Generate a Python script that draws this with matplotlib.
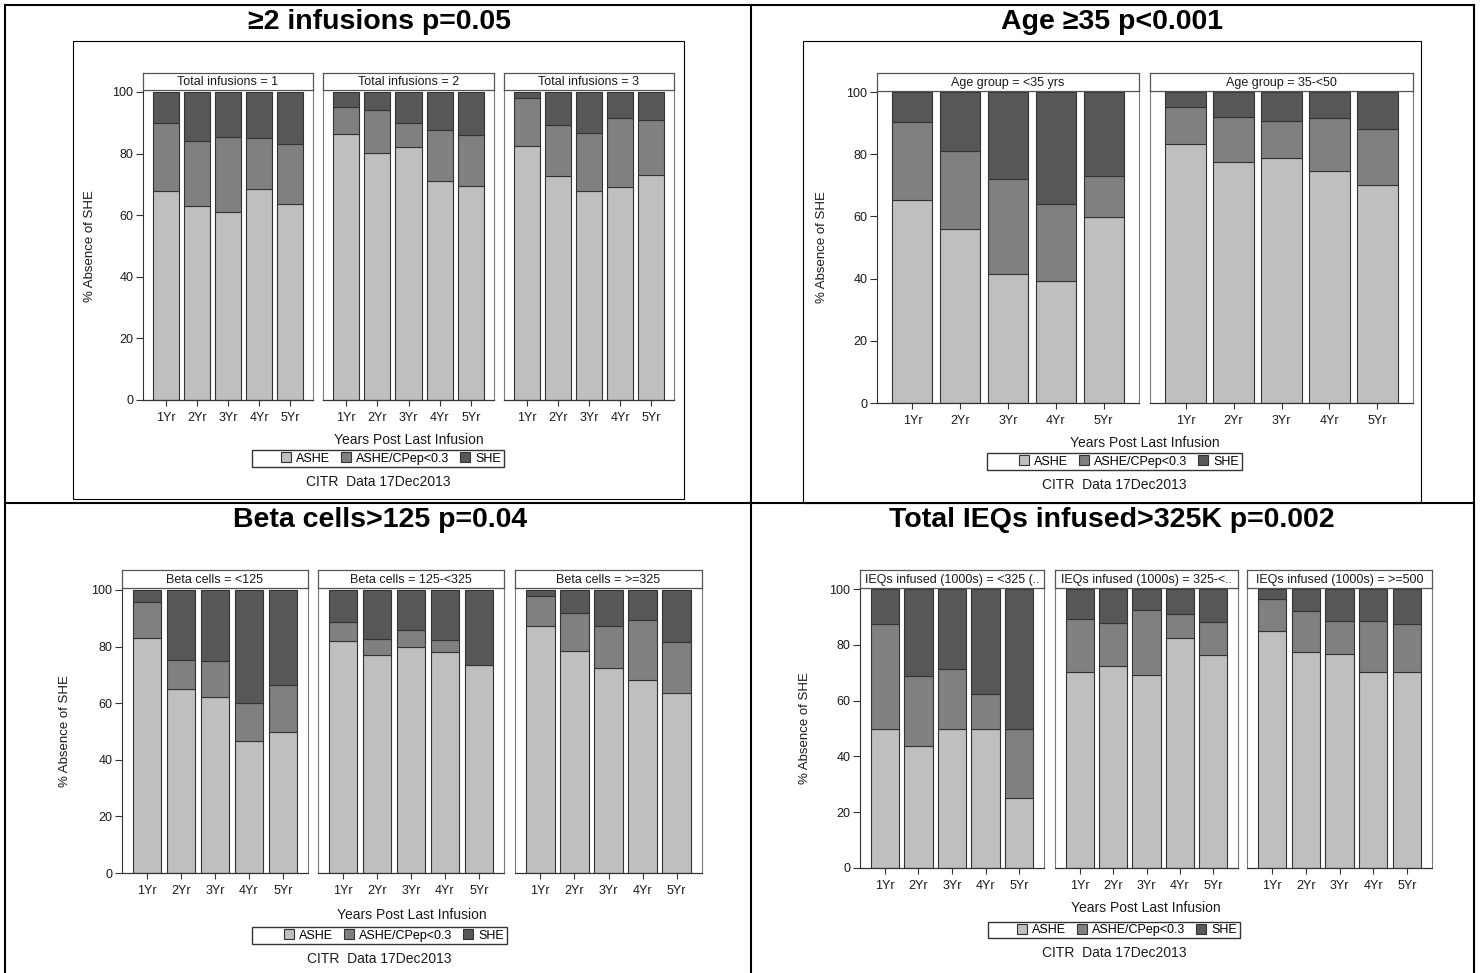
import matplotlib

matplotlib.use("Agg")
import matplotlib.pyplot as plt
from matplotlib.lines import Line2D
from matplotlib.patches import Patch, Rectangle

plt.rcParams["font.family"] = ["Liberation Sans", "DejaVu Sans"]

W, H = 1482, 973

YEARS = ["1Yr", "2Yr", "3Yr", "4Yr", "5Yr"]
SERIES = ["ASHE", "ASHE/CPep<0.3", "SHE"]
COLORS = ["#bfbfbf", "#808080", "#575757"]
EDGE = "#333333"
TEXT = "#1a1a1a"
FOOTNOTE = "CITR  Data 17Dec2013"
XLABEL = "Years Post Last Infusion"
YLABEL = "% Absence of SHE"

# --- data (percent of patients) ---
inf_title = "≥2 infusions p=0.05"
inf_groups = ["Total infusions = 1", "Total infusions = 2", "Total infusions = 3"]
inf_ashe = [[68.0, 63.0, 61.0, 68.5, 63.5], [86.5, 80.3, 82.0, 71.0, 69.6], [82.4, 72.7, 67.9, 69.2, 73.2]]
inf_cpep = [[22.0, 21.0, 24.5, 16.7, 19.7], [8.7, 13.7, 8.0, 16.6, 16.4], [15.6, 16.7, 18.8, 22.4, 17.8]]
inf_she = [[10.0, 16.0, 14.5, 14.8, 16.8], [4.8, 6.0, 10.0, 12.4, 14.0], [2.0, 10.6, 13.3, 8.4, 9.0]]

age_title = "Age ≥35 p<0.001"
age_groups = ["Age group = <35 yrs", "Age group = 35-<50"]
age_ashe = [[65.4, 56.0, 41.6, 39.2, 59.8], [83.4, 77.4, 78.9, 74.7, 70.0]]
age_cpep = [[25.0, 25.0, 30.5, 24.8, 13.3], [11.8, 14.6, 11.7, 16.9, 18.0]]
age_she = [[9.6, 19.0, 27.9, 36.0, 26.9], [4.8, 8.0, 9.4, 8.4, 12.0]]

beta_title = "Beta cells>125 p=0.04"
beta_groups = ["Beta cells = <125", "Beta cells = 125-<325", "Beta cells = >=325"]
beta_ashe = [[83.2, 65.0, 62.3, 46.6, 50.0], [82.0, 77.0, 80.0, 78.1, 73.5], [87.3, 78.6, 72.6, 68.2, 63.5]]
beta_cpep = [[12.6, 10.1, 12.7, 13.4, 16.6], [6.8, 5.8, 5.7, 4.3, 0.0], [10.7, 13.2, 14.6, 21.1, 18.2]]
beta_she = [[4.2, 24.9, 25.0, 40.0, 33.4], [11.2, 17.2, 14.3, 17.6, 26.5], [2.0, 8.2, 12.8, 10.7, 18.3]]

ieq_title = "Total IEQs infused>325K p=0.002"
ieq_groups = ["IEQs infused (1000s) = <325 (..", "IEQs infused (1000s) = 325-<..", "IEQs infused (1000s) = >=500"]
ieq_ashe = [[50.0, 43.6, 50.0, 50.0, 25.0], [70.1, 72.5, 69.1, 82.4, 76.3], [85.0, 77.3, 76.8, 70.1, 70.1]]
ieq_cpep = [[37.5, 25.2, 21.3, 12.5, 25.0], [19.1, 15.3, 23.2, 8.8, 11.8], [11.3, 14.7, 11.9, 18.3, 17.5]]
ieq_she = [[12.5, 31.2, 28.7, 37.5, 50.0], [10.8, 12.2, 7.7, 8.8, 11.9], [3.7, 8.0, 11.3, 11.6, 12.4]]

# --- layout in pixels of the 1482x973 page (origin top-left) ---
LAYOUT = [
    dict(title_xy=(380, 22), panels=[(143, 313), (323, 494), (504, 674)], strip=(73, 90),
         y100=92, y0=400, ylabel_x=90, xlabel_y=440, legend=(252, 450, 504, 467), foot_y=482),
    dict(title_xy=(1112, 22), panels=[(877, 1139), (1150, 1413)], strip=(73, 91),
         y100=92, y0=403, ylabel_x=822, xlabel_y=443, legend=(987, 453, 1242, 470), foot_y=485),
    dict(title_xy=(380, 520), panels=[(122, 308), (318, 504), (515, 702)], strip=(570, 588),
         y100=590, y0=873, ylabel_x=65, xlabel_y=915, legend=(252, 927, 507, 944), foot_y=959),
    dict(title_xy=(1112, 520), panels=[(860, 1044), (1055, 1238), (1247, 1432)], strip=(570, 588),
         y100=589, y0=868, ylabel_x=805, xlabel_y=908, legend=(988, 922, 1240, 938), foot_y=953),
]


def fx(x):
    return x / W


def fy(y):
    return 1 - y / H


def px_rect(x0, y0, x1, y1):
    return [fx(x0), fy(y1), (x1 - x0) / W, (y1 - y0) / H]


def draw_cell(fig, title, groups, ashe, cpep, she, lay):
    fig.text(fx(lay["title_xy"][0]), fy(lay["title_xy"][1]), title, ha="center", va="center",
             fontsize=20.5, fontweight="bold", color="black")

    strip_top, strip_bot = lay["strip"]
    ytop = 100 * (lay["y0"] - strip_bot) / (lay["y0"] - lay["y100"])
    xpos = list(range(len(YEARS)))

    for i, group in enumerate(groups):
        x0, x1 = lay["panels"][i]
        ax = fig.add_axes(px_rect(x0, strip_bot, x1, lay["y0"]))
        mid_bottom = [a + c for a, c in zip(ashe[i], cpep[i])]
        ax.bar(xpos, ashe[i], width=0.84, color=COLORS[0], edgecolor=EDGE, linewidth=0.8)
        ax.bar(xpos, cpep[i], bottom=ashe[i], width=0.84, color=COLORS[1], edgecolor=EDGE, linewidth=0.8)
        ax.bar(xpos, she[i], bottom=mid_bottom, width=0.84, color=COLORS[2], edgecolor=EDGE, linewidth=0.8)
        ax.set_xlim(-0.74, 4.74)
        ax.set_ylim(0, ytop)
        ax.set_xticks(xpos)
        ax.set_xticklabels(YEARS)
        ax.tick_params(axis="x", length=4, width=0.8, color=EDGE, labelsize=9, pad=4.5, labelcolor=TEXT)
        for side in ["left", "right", "top"]:
            ax.spines[side].set_color("#7a7a7a")
            ax.spines[side].set_linewidth(0.8)
        ax.spines["bottom"].set_color(EDGE)
        ax.spines["bottom"].set_linewidth(0.9)
        if i == 0:
            ax.set_yticks([0, 20, 40, 60, 80, 100])
            ax.tick_params(axis="y", length=5, width=0.8, color=EDGE, labelsize=9, pad=2, labelcolor=TEXT)
            ax.spines["left"].set_color(EDGE)
        else:
            ax.set_yticks([])

        sax = fig.add_axes(px_rect(x0, strip_top, x1, strip_bot))
        sax.set_xticks([])
        sax.set_yticks([])
        for sp in sax.spines.values():
            sp.set_color("#555555")
            sp.set_linewidth(0.9)
        sax.text(0.5, 0.45, group, ha="center", va="center", fontsize=9, color=TEXT,
                 transform=sax.transAxes, clip_on=True)

    px_left = lay["panels"][0][0]
    px_right = lay["panels"][-1][1]
    fig.text(fx(lay["ylabel_x"]), fy((lay["y100"] + lay["y0"]) / 2), YLABEL, rotation=90,
             ha="center", va="center", fontsize=9.5, color=TEXT)
    fig.text(fx((px_left + px_right) / 2), fy(lay["xlabel_y"]), XLABEL, ha="center", va="center",
             fontsize=10, color=TEXT)

    lx0, ly0, lx1, ly1 = lay["legend"]
    fig.patches.append(Rectangle((fx(lx0), fy(ly1)), (lx1 - lx0) / W, (ly1 - ly0) / H,
                                 transform=fig.transFigure, fill=False, edgecolor="#333333",
                                 linewidth=1.0))
    handles = [Patch(facecolor=c, edgecolor=EDGE, linewidth=0.8) for c in COLORS]
    fig.legend(handles, SERIES, loc="center right", bbox_to_anchor=(fx(lx1 - 3), fy((ly0 + ly1) / 2)),
               ncol=3, frameon=False, fontsize=9, handlelength=0.8, handleheight=0.8,
               handletextpad=0.4, columnspacing=0.9, borderaxespad=0, borderpad=0)

    fig.text(fx((lx0 + lx1) / 2), fy(lay["foot_y"]), FOOTNOTE, ha="center", va="center",
             fontsize=10, color=TEXT)


def draw_table(fig):
    thick = 1.5
    lines = [
        ((5, 5), (1474, 5)),
        ((5, 5), (5, 973)),
        ((1474, 5), (1474, 973)),
        ((751, 5), (751, 973)),
        ((5, 503), (1474, 503)),
    ]
    for (xa, ya), (xb, yb) in lines:
        fig.add_artist(Line2D([fx(xa), fx(xb)], [fy(ya), fy(yb)], color="black", linewidth=thick))
    # borders of the two embedded pictures in the top row
    for x0, y0, x1, y1 in [(73, 41, 684, 499), (803, 41, 1421, 503)]:
        fig.patches.append(Rectangle((fx(x0), fy(y1)), (x1 - x0) / W, (y1 - y0) / H,
                                     transform=fig.transFigure, fill=False, edgecolor="black",
                                     linewidth=0.8))


def main():
    fig = plt.figure(figsize=(W / 100, H / 100), dpi=100)
    fig.patch.set_facecolor("white")

    cells = [
        (inf_title, inf_groups, inf_ashe, inf_cpep, inf_she),
        (age_title, age_groups, age_ashe, age_cpep, age_she),
        (beta_title, beta_groups, beta_ashe, beta_cpep, beta_she),
        (ieq_title, ieq_groups, ieq_ashe, ieq_cpep, ieq_she),
    ]
    for (title, groups, ashe, cpep, she), lay in zip(cells, LAYOUT):
        draw_cell(fig, title, groups, ashe, cpep, she, lay)

    draw_table(fig)
    fig.savefig("out.png", dpi=100)


if __name__ == "__main__":
    main()
